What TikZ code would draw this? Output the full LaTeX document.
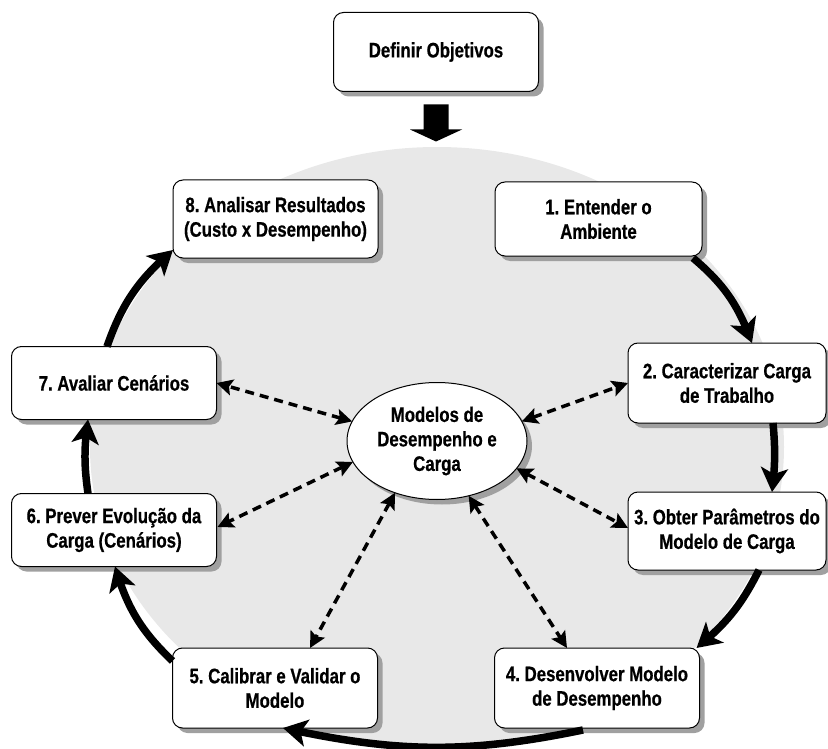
\documentclass[tikz,border=0pt]{standalone}
\usepackage{fontspec}
\setmainfont{Liberation Sans}[FakeStretch=0.8, BoldFeatures={FakeBold=0.6}]
\usetikzlibrary{arrows.meta,shapes.geometric,shadows,calc,bending}

\definecolor{backdrop}{RGB}{232,232,232}
\definecolor{shade}{RGB}{160,160,160}

\begin{document}
\frenchspacing
\begin{tikzpicture}[x=1pt,y=-1pt,
  boxtext/.style={font=\fontsize{21}{24.5}\selectfont\bfseries, align=center},
  stage/.style={boxtext, draw=black, line width=1pt, rounded corners=10pt, fill=white,
    inner sep=2pt, outer sep=0pt,
    drop shadow={shadow xshift=5pt, shadow yshift=-5pt, fill=shade, opacity=1}},
  hub/.style={boxtext, ellipse, draw=black, line width=1pt, fill=white,
    inner sep=0pt, outer sep=0pt, minimum width=180pt, minimum height=117pt,
    drop shadow={shadow xshift=5pt, shadow yshift=-5pt, fill=shade, opacity=1}},
  cyc/.style={line width=7.5pt, -{Stealth[length=24pt,width=27pt,inset=6pt]}},
  dual/.style={line width=3.5pt, dash pattern=on 9pt off 6pt,
    {Stealth[length=16pt,width=16pt,inset=3pt]}-{Stealth[length=16pt,width=16pt,inset=3pt]}}
]
\useasboundingbox (0,0) rectangle (828,749);

% light backdrop behind the cycle
\fill[backdrop] (437,447) ellipse [x radius=347, y radius=300];

% stages of the cycle
\node[stage, minimum width=205pt, minimum height=79pt] (d)  at (436,52)  {Definir Objetivos};
\node[stage, minimum width=205pt, minimum height=78pt] (b8) at (275.5,219) {8. Analisar Resultados\\(Custo x Desempenho)};
\node[stage, minimum width=207pt, minimum height=74pt] (b1) at (598.5,219) {1. Entender o\\Ambiente};
\node[stage, minimum width=198pt, minimum height=80pt] (b2) at (727,383) {2. Caracterizar Carga\\de Trabalho};
\node[stage, minimum width=198pt, minimum height=78pt] (b3) at (727,531) {3. Obter Parâmetros do\\Modelo de Carga};
\node[stage, minimum width=205pt, minimum height=80pt] (b4) at (597,688) {4. Desenvolver Modelo\\de Desempenho};
\node[stage, minimum width=205pt, minimum height=80pt] (b5) at (275,688) {5. Calibrar e Validar o\\Modelo};
\node[stage, minimum width=205pt, minimum height=73pt] (b6) at (114,530) {6. Prever Evolução da\\Carga (Cenários)};
\node[stage, minimum width=205pt, minimum height=73pt] (b7) at (114,383) {7. Avaliar Cenários};

% central models
\node[hub] (ell) at (437,441) {Modelos de\\Desempenho e\\Carga};

% block arrow below the objectives
\fill[black] ($(d.south)+(-12.5,13)$) -- ++(25,0) -- ++(0,25) -- ++(13.5,0)
  -- ($(d.south)+(0,50)$) -- ($(d.south)+(-26,38)$) -- ++(13.5,0) -- cycle;

% cycle arrows
\draw[cyc] ($(b1.south east)+(-9,2)$) to[bend left=15] ($(b2.north)+(25,0)$);
\draw[cyc] ($(b2.south)+(46,0)$) to[bend left=6] ($(b3.north)+(45,0)$);
\draw[cyc] ($(b3.south)+(32,0)$) to[bend left=12] ($(b4.north east)+(-3,0)$);
\draw[cyc] ($(b4.south)+(-14,2)$) to[bend left=12] ($(b5.south)+(8,0)$);
\draw[cyc] ($(b5.north west)+(0,13)$) to[bend left=15] ($(b6.south)+(1,0)$);
\draw[cyc] ($(b6.north)+(-26,0)$) to[bend left=8] ($(b7.south)+(-26,0)$);
\draw[cyc] ($(b7.north)+(-7,0)$) to[bend left=15] ($(b8.south west)+(0,-8)$);

% links between the models and the stages
\draw[dual] (ell.167) -- (b7.east);
\draw[dual] (ell.194) -- ($(b6.east)+(1,-3)$);
\draw[dual] (ell.13) -- (b2.west);
\draw[dual] (ell.-19) -- ($(b3.west)+(0,-3)$);
\draw[dual] (ell.231) -- ($(b5.north)+(35,0)$);
\draw[dual] (ell.-60) -- ($(b4.north)+(-30,0)$);
\end{tikzpicture}
\end{document}
